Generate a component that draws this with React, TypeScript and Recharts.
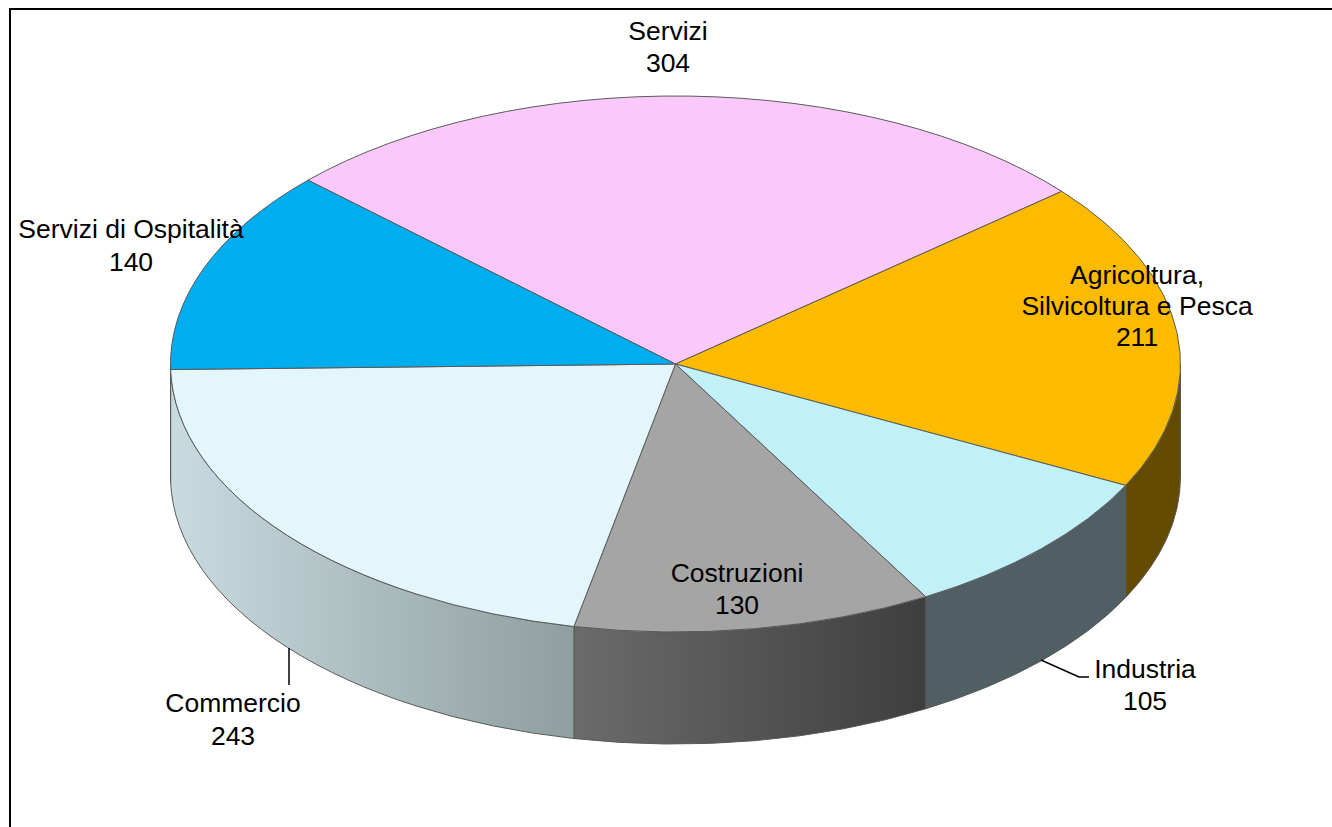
import React from "react";
import { PieChart, Pie } from "recharts";

const categories = ["Servizi", "Agricoltura, Silvicoltura e Pesca", "Industria", "Costruzioni", "Commercio", "Servizi di Ospitalità"];
const values = [304, 211, 105, 130, 243, 140];
const topColors = ["#FBC8FB", "#FDBB00", "#C0F1F9", "#A5A5A5", "#E3F6FB", "#00ADEE"];
const wallFrom = ["#7D647D", "#634C00", "#4F5F63", "#6B6B6B", "#C8DBDF", "#8A9A9E"];
const wallTo = ["#7D647D", "#634C00", "#4F5F63", "#3E3E3E", "#8F9E9F", "#8A9A9E"];
const labelLines = [["Servizi"], ["Agricoltura,", "Silvicoltura e Pesca"], ["Industria"], ["Costruzioni"], ["Commercio"], ["Servizi di Ospitalità"]];
const labelX = [668, 1137, 1145, 737, 233, 131];
const labelBaseline = [40, 284, 678, 582, 712, 238];
const labelStep = [32, 31, 32, 32, 33, 33];
const leaderPaths = ["", "", "M1041 660 L1079 677 L1089 677", "", "M289 648 L289 685", ""];

const data = categories.map((name, i) => ({ name, value: values[i] }));

const CX = 675.5;
const CY = 364;
const RX = 505;
const RY = 268;
const DEPTH = 112;
const EDGE = "#5A5A5A";
const FONT = "'Liberation Sans', Arial, sans-serif";

const pt = (a: number, dy = 0) => {
  const r = (a * Math.PI) / 180;
  return { x: CX + RX * Math.cos(r), y: CY - RY * Math.sin(r) + dy };
};

const TopSlice = (p: any) => {
  const a = pt(p.startAngle);
  const b = pt(p.endAngle);
  const large = Math.abs(p.startAngle - p.endAngle) > 180 ? 1 : 0;
  return (
    <path
      d={`M${CX} ${CY} L${a.x} ${a.y} A${RX} ${RY} 0 ${large} 1 ${b.x} ${b.y} Z`}
      fill={topColors[p.index]}
      stroke={EDGE}
      strokeWidth={1}
    />
  );
};

const WallSlice = (p: any) => {
  const a1 = Math.min(p.startAngle, 0);
  const a2 = Math.max(p.endAngle, -180);
  if (a1 <= a2) return <g />;
  const t1 = pt(a1);
  const t2 = pt(a2);
  const b1 = pt(a1, DEPTH);
  const b2 = pt(a2, DEPTH);
  const id = `wall-${p.index}`;
  return (
    <g>
      <defs>
        <linearGradient id={id} gradientUnits="userSpaceOnUse" x1={Math.min(t1.x, t2.x)} x2={Math.max(t1.x, t2.x)} y1={0} y2={0}>
          <stop offset="0%" stopColor={wallFrom[p.index]} />
          <stop offset="100%" stopColor={wallTo[p.index]} />
        </linearGradient>
      </defs>
      <path
        d={`M${t1.x} ${t1.y} A${RX} ${RY} 0 0 1 ${t2.x} ${t2.y} L${b2.x} ${b2.y} A${RX} ${RY} 0 0 0 ${b1.x} ${b1.y} Z`}
        fill={`url(#${id})`}
        stroke={EDGE}
        strokeWidth={1}
      />
    </g>
  );
};

const SliceLabel = (p: any) => {
  const i = p.index;
  const lines = [...labelLines[i], String(values[i])];
  return (
    <g>
      {leaderPaths[i] && <path d={leaderPaths[i]} fill="none" stroke="#000" strokeWidth={1.5} />}
      <text textAnchor="middle" fontFamily={FONT} fontSize={26.5} fill="#000">
        {lines.map((t, k) => (
          <tspan key={k} x={labelX[i]} y={labelBaseline[i] + k * labelStep[i]}>{t}</tspan>
        ))}
      </text>
    </g>
  );
};

export default function App() {
  const pieProps = {
    data,
    dataKey: "value",
    nameKey: "name",
    cx: CX,
    cy: CY,
    outerRadius: RX,
    startAngle: 136.7,
    endAngle: -223.3,
    isAnimationActive: false,
  };
  return (
    <div style={{ position: "absolute", left: 0, top: 0, width: 1332, height: 827, background: "#fff", overflow: "hidden" }}>
      <div style={{ position: "absolute", left: 9, top: 8, width: 1323, height: 819, boxSizing: "border-box", borderLeft: "2px solid #000", borderTop: "2px solid #000" }} />
      <div style={{ position: "absolute", left: 0, top: 0 }}>
        <PieChart width={1332} height={827} margin={{ top: 0, right: 0, bottom: 0, left: 0 }}>
          <Pie {...pieProps} shape={WallSlice} labelLine={false} />
          <Pie {...pieProps} shape={TopSlice} labelLine={false} label={SliceLabel} />
        </PieChart>
      </div>
    </div>
  );
}
